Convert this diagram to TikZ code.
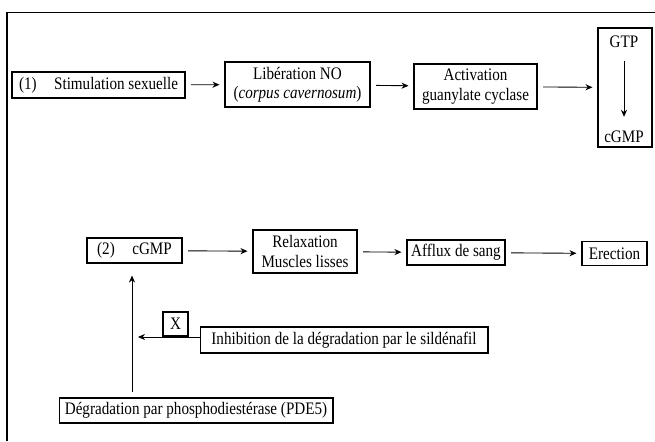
\documentclass[tikz,border=0pt]{standalone}
\usepackage{fontspec}
\setmainfont{Liberation Serif}[FakeStretch=0.86]
\usetikzlibrary{arrows.meta}

\begin{document}
\begin{tikzpicture}[x=0.02cm, y=-0.02cm, font=\fontsize{10}{11}\selectfont,
    box/.style={draw, line width=0.6pt, inner sep=1pt, align=center},
    flow/.style={-{Stealth[length=4pt,width=3.5pt]}, line width=0.5pt,
    shorten <=1.1mm, shorten >=1mm}]
    \useasboundingbox (0,0) rectangle (655,441);
    \draw[line width=0.9pt] (7,441) -- (7,12.5) -- (655,12.5);
    \node[box, minimum width=3.46cm, minimum height=0.52cm] (stim) at (98.5,85)
        {(1)\quad Stimulation sexuelle};
    \node[box, minimum width=2.9cm, minimum height=0.9cm] (lib) at (297.5,84.5)
        {Libération NO\\(\textit{corpus cavernosum})};
    \node[box, minimum width=2.46cm, minimum height=0.9cm] (act) at (475.5,86.5)
        {Activation\\guanylate cyclase};
    \node[box, minimum width=1.08cm, minimum height=2.38cm] (cyc) at (625,87.5) {};
    \node[inner sep=0pt] (gtp) at (624,42) {GTP};
    \node[inner sep=0pt] (cgmpa) at (624,137) {cGMP};
    \node[box, minimum width=1.9cm, minimum height=0.5cm] (cgmp) at (134.5,250.5)
        {(2)\quad cGMP};
    \node[box, minimum width=2.08cm, minimum height=0.86cm] (relax) at (305,251.5)
        {Relaxation\\Muscles lisses};
    \node[box, minimum width=1.96cm, minimum height=0.5cm] (afflux) at (456,252.5)
        {Afflux de sang};
    \node[box, minimum width=1.3cm, minimum height=0.48cm] (erec) at (614.5,253.5)
        {Erection};
    \node[box, minimum width=0.5cm, minimum height=0.48cm] (xmark) at (175.5,324) {X};
    \node[box, minimum width=5.76cm, minimum height=0.52cm] (inhib) at (344,340)
        {Inhibition de la dégradation par le sildénafil};
    \node[box, minimum width=5.48cm, minimum height=0.5cm] (degr) at (196,410.5)
        {Dégradation par phosphodiestérase (PDE5)};
    \coordinate (hit) at (138,337);
    \foreach \a/\b in {stim/lib, lib/act, act/cyc, cgmp/relax, relax/afflux, afflux/erec}
        \draw[flow] (\a) -- (\b);
    \draw[flow, shorten <=0.26cm, shorten >=0.28cm] (gtp) -- (cgmpa);
    \draw[flow, shorten <=0pt, shorten >=0pt] (inhib.west |- hit) -- (hit);
    \draw[flow, shorten <=0.1cm, shorten >=0.24cm]
        ([xshift=-0.05cm]degr.north -| cgmp.south) -- ([xshift=-0.05cm]cgmp.south);
\end{tikzpicture}
\end{document}
